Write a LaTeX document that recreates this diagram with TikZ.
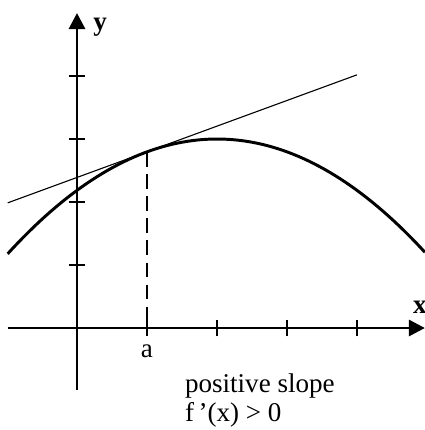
\documentclass[tikz,border=0pt]{standalone}
\usepackage{fontspec}
\setmainfont{Liberation Serif}
\usetikzlibrary{arrows.meta, positioning, calc}
\tikzset{
  axis/.style={line width=1.2pt, -{Triangle[length=6.5pt,width=6.5pt]}},
  tick/.style={line width=0.8pt},
  curve/.style={line width=1.2pt},
  lbl/.style={font=\fontsize{11}{12}\selectfont}
}

\begin{document}
\begin{tikzpicture}
        \useasboundingbox (-1.1,-1.457) rectangle (4.971,4.686);
        \coordinate (XL) at (-0.99,0);
        \coordinate (XR) at (4.97,0);
        \coordinate (YB) at (0,-0.886);
        \coordinate (YT) at (0,4.5);
        \coordinate (A) at (1,2.517);
        \coordinate (Ax) at (1,0);
        \coordinate (T1) at (-0.99,1.788);
        \coordinate (T2) at (4.0,3.617);
        % axes and ticks
        \draw[axis] (XL)--(XR);
        \draw[axis] (YB)--(YT);
        \foreach \i in {1,2,3,4}{\draw[tick] (\i,-0.12)--(\i,0.12);}
        \foreach \j in {0.9,1.8,2.7,3.6}{\draw[tick] (-0.12,\j)--(0.12,\j);}
        % curve, tangent and drop line
        \draw[curve,domain=-0.99:4.97,samples=80] plot (\x,{2.7-0.1834*(\x-2)*(\x-2)});
        \draw[line width=0.45pt] (T1)--(T2);
        \draw[line width=0.6pt,dash pattern=on 6pt off 3pt] (A)--(Ax);
        % labels
        \node[font=\bfseries\fontsize{11}{12}\selectfont] (xlbl) at (4.9,0.29) {x};
        \node[font=\bfseries\fontsize{11}{12}\selectfont] (ylbl) at (0.33,4.3) {y};
        \node[lbl] (albl) at (1,-0.33) {a};
        \node[lbl,anchor=west,align=left] (slope) at (1.42,-1.035) {positive slope\\f\,'(x) > 0};
      \end{tikzpicture}
\end{document}
